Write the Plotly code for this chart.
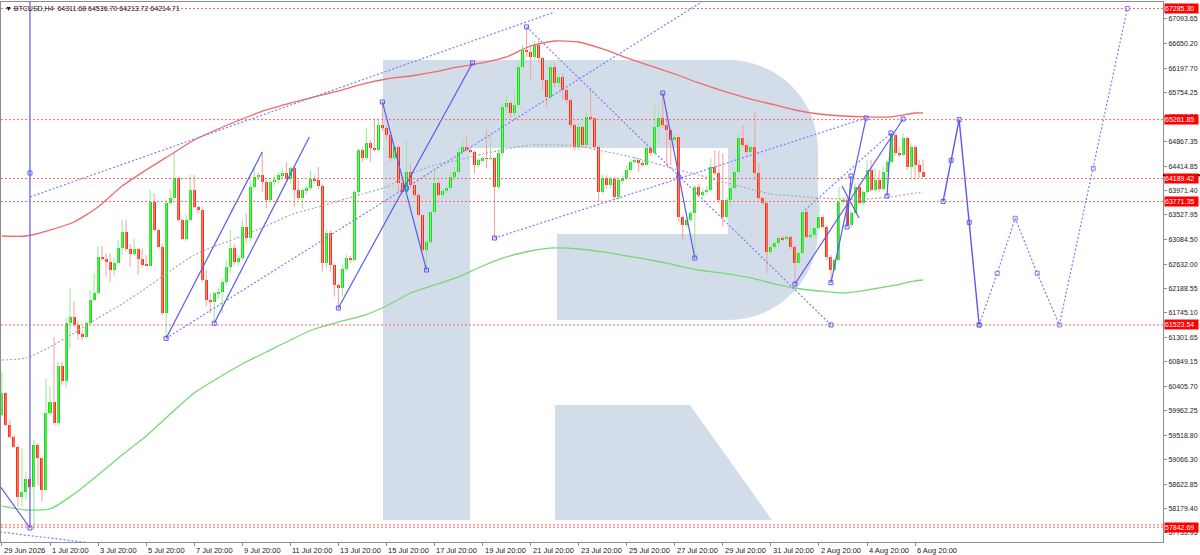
import pandas as pd
import plotly.graph_objects as go

# ── BTCUSD H4 bars (29 Jun 20:00 → 7 Aug 04:00, 2026) ──────────────────────────
bar_times = pd.date_range("2026-06-29 20:00", periods=231, freq="4h")

opens = [
    59884, 60279, 59702, 59490, 59308, 58397, 58488, 58713, 58567, 59338,
    59095, 58518, 59914, 60127, 59732, 60776, 60509, 61553, 61674, 61523,
    61350, 61298, 61565, 61978, 62099, 62767, 62718, 62676, 62524, 62658,
    62919, 63222, 62900, 62820, 62906, 62718, 62615, 62600, 63768, 63252,
    62949, 61735, 63738, 63829, 64193, 63435, 63082, 63435, 63981, 63677,
    63617, 62342, 61978, 61947, 62099, 62129, 62311, 62584, 62918, 62675,
    62736, 63313, 63100, 64041, 64223, 64253, 64132, 63798, 64132, 64162,
    64253, 64284, 64174, 64375, 63980, 63828, 63980, 64011, 64180, 64160,
    64053, 62645, 63191, 62615, 62251, 62190, 62536, 62736, 62706, 63950,
    64709, 64557, 64830, 64739, 64709, 65164, 65103, 64982, 64557, 64769,
    64102, 63950, 64314, 64071, 63889, 63525, 62888, 63040, 63586, 64102,
    63889, 63962, 64011, 64223, 64314, 64678, 64769, 64708, 64680, 64435,
    64526, 64557, 64545, 64557, 64041, 64648, 65497, 65558, 65376, 65528,
    66226, 66529, 66500, 66408, 66620, 66378, 65983, 65680, 66226, 65922,
    66044, 65801, 65619, 65164, 64769, 65133, 64799, 65315, 65285, 64769,
    63950, 64193, 64071, 64174, 63859, 64162, 64193, 64344, 64496, 64526,
    64466, 64440, 64739, 64648, 65133, 65285, 65164, 65073, 64891, 64951,
    63495, 63343, 63434, 63555, 64041, 63889, 63950, 63980, 64405, 64284,
    63798, 63495, 63798, 64011, 64314, 64921, 64800, 64678, 64769, 64284,
    63828, 63737, 62857, 62949, 63009, 63100, 63082, 63131, 62949, 62645,
    62827, 63586, 63131, 63160, 63282, 63495, 63313, 62767, 62524, 62706,
    63768, 63798, 63343, 63556, 64029, 63737, 63950, 64344, 63980, 64162,
    63993, 64314, 64496, 64982, 64648, 64618, 64921, 64405, 64769, 64436,
    64311.68,
]
highs = [
    60673, 60300, 59800, 59520, 59330, 59277, 58852, 58760, 59429, 59370,
    59110, 60552, 60400, 61310, 60855, 60855, 61650, 62190, 61948, 61600,
    61440, 61600, 62160, 62463, 62949, 62961, 62828, 62828, 62736, 63070,
    63447, 63435, 62997, 63101, 62930, 62919, 62797, 63981, 63920, 63283,
    63010, 63799, 63981, 64679, 64223, 63470, 63526, 64254, 64254, 63700,
    63677, 62524, 62099, 62129, 62200, 62372, 62700, 63252, 63000, 62800,
    63434, 63555, 64162, 64405, 64300, 64678, 64162, 64162, 64250, 64300,
    64375, 64496, 64400, 64417, 64162, 64000, 64050, 64344, 64250, 64405,
    64102, 63250, 63250, 62645, 62281, 62615, 62800, 62780, 63980, 64739,
    64769, 65103, 64891, 65285, 65285, 65589, 65150, 65000, 64800, 64800,
    64200, 64891, 64466, 64100, 63920, 63525, 63100, 63600, 64380, 64150,
    64000, 64050, 64300, 64400, 64739, 64921, 64951, 64760, 64700, 64560,
    64600, 65073, 64982, 64580, 64700, 65558, 65700, 65600, 65800, 66300,
    66620, 66942, 66620, 66700, 66700, 66400, 66000, 66300, 66300, 66100,
    66100, 65850, 65650, 65200, 65200, 65150, 65400, 65801, 65300, 64800,
    64250, 64250, 64223, 64223, 64200, 64250, 64435, 64550, 64600, 64560,
    64520, 64891, 64780, 65558, 65498, 65740, 65437, 65100, 65000, 64980,
    63520, 63480, 63600, 64071, 64100, 64000, 64050, 64557, 64709, 64700,
    64650, 63850, 64050, 64350, 65012, 65164, 64850, 64800, 65407, 64466,
    63850, 63760, 63000, 63050, 63150, 63150, 63160, 63150, 62980, 62860,
    63620, 63620, 63313, 63300, 63798, 63520, 63340, 62800, 62750, 64041,
    63850, 63859, 63600, 64102, 64100, 63980, 64527, 64527, 64375, 64344,
    64405, 64527, 65012, 65012, 64769, 65012, 64951, 64830, 64800, 64527,
    64536.70,
]
lows = [
    59854, 59672, 59450, 59280, 58215, 58215, 58336, 58540, 57790, 58600,
    58306, 58500, 59880, 59700, 59700, 60430, 60370, 61098, 61480, 61250,
    61250, 61280, 61540, 61950, 62080, 62700, 62403, 62312, 62403, 62640,
    62797, 62858, 62585, 62780, 62433, 62585, 62597, 62597, 63222, 62930,
    61705, 61280, 63720, 63799, 63400, 63070, 63050, 63400, 63650, 63560,
    62300, 61856, 61735, 61553, 62000, 61735, 62250, 62463, 62615, 62600,
    62700, 63009, 63050, 63980, 64150, 63950, 63646, 63780, 64050, 64100,
    64200, 64150, 64100, 63677, 63798, 63646, 63900, 63980, 64100, 64000,
    62493, 62550, 62493, 62038, 61807, 62038, 62500, 62650, 62680, 63900,
    64496, 64530, 64496, 64680, 64680, 65050, 64900, 64500, 64500, 63950,
    63900, 63920, 64000, 63850, 63495, 62850, 62524, 63000, 63550, 63850,
    63850, 63920, 63980, 64193, 64290, 64650, 64680, 64650, 64284, 64400,
    64500, 64375, 64520, 63100, 64000, 64600, 65376, 65300, 65300, 65500,
    66200, 66400, 66000, 66350, 66300, 65800, 65500, 65650, 65850, 65850,
    65600, 65550, 65100, 64700, 64700, 64750, 64780, 65250, 64700, 63768,
    63900, 64000, 64000, 63798, 63800, 64100, 64150, 64300, 64450, 64314,
    64400, 64420, 64600, 64620, 64830, 65100, 64405, 64435, 64850, 63400,
    63070, 63300, 63400, 62742, 63850, 63850, 63900, 63950, 64250, 63737,
    63313, 63450, 63677, 63980, 64280, 64750, 64600, 64650, 64162, 63800,
    63700, 62463, 62800, 62900, 62950, 63050, 63050, 62900, 62269, 62600,
    62800, 63100, 63070, 63100, 63250, 63280, 62700, 62293, 62500, 62680,
    63700, 63313, 63300, 63530, 63700, 63700, 63920, 63950, 63950, 63950,
    63970, 64102, 64450, 64600, 64580, 64600, 64344, 64162, 64162, 64200,
    64213.72,
]
closes = [
    60279, 59702, 59490, 59308, 58397, 58488, 58713, 58567, 59338, 59095,
    58518, 59914, 60127, 59732, 60776, 60509, 61553, 61674, 61523, 61350,
    61298, 61565, 61978, 62099, 62767, 62718, 62676, 62524, 62658, 62919,
    63222, 62900, 62820, 62906, 62718, 62615, 62600, 63768, 63252, 62949,
    61735, 63738, 63829, 64193, 63435, 63082, 63435, 63981, 63677, 63617,
    62342, 61978, 61947, 62099, 62129, 62311, 62584, 62918, 62675, 62736,
    63313, 63100, 64041, 64223, 64253, 64132, 63798, 64132, 64162, 64253,
    64284, 64174, 64375, 63980, 63828, 63980, 64011, 64180, 64160, 64053,
    62645, 63191, 62615, 62251, 62190, 62536, 62736, 62706, 63950, 64709,
    64557, 64830, 64739, 64709, 65164, 65103, 64982, 64557, 64769, 64102,
    63950, 64314, 64071, 63889, 63525, 62888, 63040, 63586, 64102, 63889,
    63962, 64011, 64223, 64314, 64678, 64769, 64708, 64680, 64435, 64526,
    64557, 64545, 64557, 64041, 64648, 65497, 65558, 65376, 65528, 66226,
    66529, 66500, 66408, 66620, 66378, 65983, 65680, 66226, 65922, 66044,
    65801, 65619, 65164, 64769, 65133, 64799, 65315, 65285, 64769, 63950,
    64193, 64071, 64174, 63859, 64162, 64193, 64344, 64496, 64526, 64466,
    64440, 64739, 64648, 65133, 65285, 65164, 65073, 64891, 64951, 63495,
    63343, 63434, 63555, 64041, 63889, 63950, 63980, 64405, 64284, 63798,
    63495, 63798, 64011, 64314, 64921, 64800, 64678, 64769, 64284, 63828,
    63737, 62857, 62949, 63009, 63100, 63082, 63131, 62949, 62645, 62827,
    63586, 63131, 63160, 63282, 63495, 63313, 62767, 62524, 62706, 63768,
    63798, 63343, 63556, 64029, 63737, 63950, 64344, 63980, 64162, 63993,
    64314, 64496, 64982, 64648, 64618, 64921, 64405, 64769, 64436, 64311.68,
    64214.71,
]

# moving averages, sampled once a day (20:00 bar) plus the last bar
ma_red = [
    63143, 63143, 63252, 63398, 63671, 64053, 64345, 64618, 64891, 65091,
    65273, 65437, 65564, 65674, 65783, 65910, 66001, 66056, 66129, 66220,
    66293, 66402, 66602, 66693, 66675, 66548, 66384, 66238, 66092, 65929,
    65783, 65655, 65546, 65437, 65364, 65328, 65310, 65310, 65382, 65382,
]
ma_green = [
    58227, 58155, 58173, 58446, 58792, 59156, 59502, 59902, 60285, 60558,
    60813, 61031, 61250, 61450, 61577, 61687, 61869, 62105, 62251, 62397,
    62597, 62761, 62870, 62925, 62906, 62852, 62779, 62706, 62615, 62524,
    62469, 62397, 62287, 62196, 62142, 62105, 62160, 62233, 62324, 62342,
]
ma_gray = [
    60885, 60922, 61122, 61377, 61650, 61905, 62196, 62506, 62797, 62979,
    63143, 63325, 63525, 63653, 63780, 63908, 64035, 64272, 64436, 64527,
    64636, 64727, 64800, 64800, 64781, 64690, 64600, 64490, 64363, 64254,
    64126, 64017, 63908, 63871, 63835, 63817, 63817, 63853, 63926, 63926,
]

# horizontal levels; the labelled ones get a red box on the price scale
levels = [67285.30, 65261.85, 64189.42, 63771.35, 61523.54, 57885.12, 57842.69]
level_labels = [67285.30, 65261.85, 64189.42, 63771.35, 61523.54, 57842.69]

# price scale ticks
y_ticks = [67093.65, 66650.20, 66197.70, 65754.25, 65310.80, 64867.35, 64414.85,
           63971.40, 63527.95, 63084.50, 62632.00, 62188.55, 61745.10, 61301.65,
           60849.15, 60405.70, 59962.25, 59518.80, 59066.30, 58622.85, 58179.40,
           57735.95]

# time scale ticks
x_tick_times = ["2026-06-29 20:00", "2026-07-01 20:00", "2026-07-03 20:00", "2026-07-05 20:00",
                "2026-07-07 20:00", "2026-07-09 20:00", "2026-07-11 20:00", "2026-07-13 20:00",
                "2026-07-15 20:00", "2026-07-17 20:00", "2026-07-19 20:00", "2026-07-21 20:00",
                "2026-07-23 20:00", "2026-07-25 20:00", "2026-07-27 20:00", "2026-07-29 20:00",
                "2026-07-31 20:00", "2026-08-02 20:00", "2026-08-04 20:00", "2026-08-06 20:00"]
x_tick_text = ["29 Jun 2026", "1 Jul 20:00", "3 Jul 20:00", "5 Jul 20:00", "7 Jul 20:00",
               "9 Jul 20:00", "11 Jul 20:00", "13 Jul 20:00", "15 Jul 20:00", "17 Jul 20:00",
               "19 Jul 20:00", "21 Jul 20:00", "23 Jul 20:00", "25 Jul 20:00", "27 Jul 20:00",
               "29 Jul 20:00", "31 Jul 20:00", "2 Aug 20:00", "4 Aug 20:00", "6 Aug 20:00"]

# analysis drawings: (time, price) end points
solid_segments = [
    (("2026-07-01 00:00", 57827), ("2026-07-01 00:00", 67450)),
    (("2026-06-29 18:00", 58591), ("2026-07-01 00:00", 57827)),
    (("2026-07-06 16:00", 61280), ("2026-07-10 16:00", 64672)),
    (("2026-07-08 16:00", 61553), ("2026-07-12 15:00", 64945)),
    (("2026-07-13 20:00", 61832), ("2026-07-19 10:00", 66293)),
    (("2026-07-15 16:00", 65583), ("2026-07-17 12:00", 62524)),
    (("2026-07-27 08:00", 65746), ("2026-07-28 16:00", 62742)),
    (("2026-08-01 20:00", 62269), ("2026-08-06 08:00", 65273)),
    (("2026-08-03 08:00", 62293), ("2026-08-04 19:00", 65291)),
    (("2026-08-05 16:00", 63871), ("2026-08-05 20:00", 65018)),
    (("2026-08-03 19:00", 64053), ("2026-08-04 12:00", 63471)),
    (("2026-08-04 00:00", 63307), ("2026-08-04 04:00", 64235)),
]
dotted_segments = [
    (("2026-07-01 00:00", 63853), ("2026-07-22 20:00", 67221)),
    (("2026-06-29 18:00", 57754), ("2026-07-03 20:00", 57540)),
    (("2026-07-06 16:00", 61280), ("2026-07-29 02:00", 67440)),
    (("2026-07-20 08:00", 63106), ("2026-08-04 19:00", 65291)),
    (("2026-07-21 16:00", 66948), ("2026-08-03 08:00", 61523.54)),
    (("2026-08-02 06:00", 63616), ("2026-08-05 20:00", 65018)),
]
pivots = [
    ("2026-07-01 00:00", 64290), ("2026-07-01 00:00", 57827), ("2026-07-06 16:00", 61280),
    ("2026-07-08 16:00", 61553), ("2026-07-13 20:00", 61832), ("2026-07-15 16:00", 65583),
    ("2026-07-16 16:00", 64017), ("2026-07-17 12:00", 62524), ("2026-07-19 10:00", 66293),
    ("2026-07-20 08:00", 63106), ("2026-07-21 16:00", 66948), ("2026-07-27 08:00", 65746),
    ("2026-07-28 00:00", 64217), ("2026-07-28 16:00", 62742), ("2026-08-01 20:00", 62269),
    ("2026-08-03 08:00", 62293), ("2026-08-03 08:00", 61523.54), ("2026-08-04 19:00", 65291),
    ("2026-08-05 16:00", 63871), ("2026-08-05 20:00", 65018), ("2026-08-06 08:00", 65273),
    ("2026-08-04 04:00", 64235), ("2026-08-04 00:00", 63307),
]

# forecast path
forecast_t = ["2026-08-08 00:00", "2026-08-08 08:00", "2026-08-08 16:00",
              "2026-08-09 02:00", "2026-08-09 12:00"]
forecast_p = [63771.35, 64521, 65261.85, 63392, 61523.54]
projection_t = ["2026-08-09 12:00", "2026-08-10 06:00", "2026-08-11 00:00", "2026-08-11 22:00",
                "2026-08-12 20:00", "2026-08-14 06:00", "2026-08-15 16:00"]
projection_p = [61523.54, 62464, 63465, 62464, 61523.54, 64375, 67285.30]

# ── styling ───────────────────────────────────────────────────────────────────
UP_BODY, DN_BODY = "#0be20b", "#ff2d0a"
UP_WICK, DN_WICK = "#98e898", "#f2a0a0"
BLUE_SOLID, BLUE_DOT = "#5a5af2", "#7c7cff"
LEVEL_RED = "#ff6464"
LOGO = "#d3dde9"
FONT = "Liberation Sans, Arial, sans-serif"

PLOT_X0, PLOT_X1 = 1, 1163   # plot area in page pixels
PLOT_Y0, PLOT_Y1 = 2, 542


def to_paper(px, py):
    return (px - PLOT_X0) / (PLOT_X1 - PLOT_X0), (PLOT_Y1 - py) / (PLOT_Y1 - PLOT_Y0)


def svg_path(cmds):
    parts = []
    for cmd in cmds:
        letter, pts = cmd[0], cmd[1:]
        coords = []
        for i in range(0, len(pts), 2):
            x, y = to_paper(pts[i], pts[i + 1])
            coords.append(f"{x:.5f},{y:.5f}")
        parts.append(letter + " ".join(coords))
    return " ".join(parts)


def seg_xy(segments):
    xs, ys = [], []
    for (t0, p0), (t1, p1) in segments:
        xs += [t0, t1, None]
        ys += [p0, p1, None]
    return xs, ys


fig = go.Figure()

# wicks
up = [c >= o for o, c in zip(opens, closes)]
wx_up, wy_up, wx_dn, wy_dn = [], [], [], []
for t, h, l, u in zip(bar_times, highs, lows, up):
    if u:
        wx_up += [t, t, None]
        wy_up += [l, h, None]
    else:
        wx_dn += [t, t, None]
        wy_dn += [l, h, None]
fig.add_trace(go.Scatter(x=wx_up, y=wy_up, mode="lines", line=dict(color=UP_WICK, width=1),
                         hoverinfo="skip"))
fig.add_trace(go.Scatter(x=wx_dn, y=wy_dn, mode="lines", line=dict(color=DN_WICK, width=1),
                         hoverinfo="skip"))

# bodies
body_base = [min(o, c) for o, c in zip(opens, closes)]
body_len = [max(abs(c - o), 18) for o, c in zip(opens, closes)]
fig.add_trace(go.Bar(
    x=bar_times, y=body_len, base=body_base,
    width=3 * 3600 * 1000,
    marker=dict(color=[UP_BODY if u else DN_BODY for u in up], line=dict(width=0)),
    hoverinfo="skip",
))

# moving averages
ma_times = list(bar_times[::6]) + [bar_times[-1]]
fig.add_trace(go.Scatter(x=ma_times, y=ma_gray, mode="lines",
                         line=dict(color="#a8a8a8", width=1.2, dash="2px,2px", shape="spline", smoothing=0.6)))
fig.add_trace(go.Scatter(x=ma_times, y=ma_red, mode="lines",
                         line=dict(color="#f06a6a", width=1.3, shape="spline", smoothing=0.6)))
fig.add_trace(go.Scatter(x=ma_times, y=ma_green, mode="lines",
                         line=dict(color="#78d878", width=1.3, shape="spline", smoothing=0.6)))

# drawings
sx, sy = seg_xy(solid_segments)
fig.add_trace(go.Scatter(x=sx, y=sy, mode="lines", line=dict(color=BLUE_SOLID, width=1.2)))
dx, dy = seg_xy(dotted_segments)
fig.add_trace(go.Scatter(x=dx, y=dy, mode="lines", line=dict(color=BLUE_DOT, width=1.2, dash="2px,2px")))
fig.add_trace(go.Scatter(x=[p[0] for p in pivots], y=[p[1] for p in pivots], mode="markers",
                         marker=dict(symbol="square-open", size=4, color=BLUE_SOLID, line=dict(width=1))))

# forecast
fig.add_trace(go.Scatter(x=projection_t, y=projection_p, mode="lines+markers",
                         line=dict(color=BLUE_DOT, width=1.2, dash="2px,2px"),
                         marker=dict(symbol="square-open", size=4, color=BLUE_DOT, line=dict(width=1))))
fig.add_trace(go.Scatter(x=forecast_t, y=forecast_p, mode="lines+markers",
                         line=dict(color=BLUE_SOLID, width=1.4),
                         marker=dict(symbol="square-open", size=4, color=BLUE_SOLID, line=dict(width=1))))

# ── shapes: watermark, levels ────────────────────────────────────────────────
logo_bowl = [("M", 383, 60), ("L", 728, 60), ("C", 778, 60, 818, 100, 818, 150),
             ("L", 818, 230), ("C", 818, 280, 778, 320, 728, 320), ("L", 557, 320),
             ("L", 557, 234), ("L", 728, 234), ("L", 728, 148), ("L", 470, 148),
             ("L", 470, 520), ("L", 383, 520), ("Z",)]
logo_leg = [("M", 555, 405), ("L", 690, 405), ("L", 772, 520), ("L", 555, 520), ("Z",)]

shapes = []
for cmds in (logo_bowl, logo_leg):
    shapes.append(dict(type="path", path=svg_path(cmds), xref="paper", yref="paper",
                       fillcolor=LOGO, line=dict(width=0), layer="below"))
for lv in levels:
    shapes.append(dict(type="line", xref="paper", x0=0, x1=1, yref="y", y0=lv, y1=lv,
                       line=dict(color=LEVEL_RED, width=1, dash="2px,2px")))
# bid marker on the price scale
shapes.append(dict(type="line", xref="paper", x0=1, x1=1.032, yref="y", y0=64250, y1=64250,
                   line=dict(color="#000000", width=2)))

annotations = []
for lv in level_labels:
    annotations.append(dict(x=1, xref="paper", y=lv, yref="y", xanchor="left", xshift=1,
                            text=f"{lv:.2f}", showarrow=False, bgcolor="#ff0000",
                            font=dict(color="#ffffff", size=7, family=FONT),
                            width=33, height=9, align="left", borderpad=0))
for t, txt in zip(x_tick_times, x_tick_text):
    annotations.append(dict(x=t, xref="x", y=0, yref="paper", xanchor="left", yanchor="top",
                            yshift=-2, text=txt, showarrow=False,
                            font=dict(color="#222222", size=7.5, family=FONT)))
annotations.append(dict(x=0, xref="paper", y=1, yref="paper", xanchor="left", yanchor="top",
                        xshift=2, yshift=-1, showarrow=False,
                        text="▼ BTCUSD,H4  64311.68 64536.70 64213.72 64214.71",
                        font=dict(color="#111111", size=7, family=FONT)))

fig.update_layout(
    width=1200, height=555,
    margin=dict(l=PLOT_X0, r=1200 - PLOT_X1, t=PLOT_Y0, b=555 - PLOT_Y1),
    paper_bgcolor="#ffffff", plot_bgcolor="#ffffff",
    showlegend=False, barmode="overlay", bargap=0,
    font=dict(family=FONT, size=7, color="#222222"),
    shapes=shapes, annotations=annotations,
    xaxis=dict(
        type="date", range=["2026-06-29 19:04", "2026-08-17 03:36"],
        showgrid=False, zeroline=False, showline=True, mirror=True,
        linecolor="#8c8c8c", linewidth=1,
        tickvals=x_tick_times, showticklabels=False,
        ticks="outside", ticklen=3, tickcolor="#8c8c8c",
        rangeslider=dict(visible=False),
    ),
    yaxis=dict(
        side="right", range=[57572, 67403],
        showgrid=False, zeroline=False, showline=True, mirror=True,
        linecolor="#8c8c8c", linewidth=1,
        tickvals=y_ticks, ticktext=[f"{v:.2f}" for v in y_ticks],
        ticks="outside", ticklen=3, tickcolor="#8c8c8c",
        tickfont=dict(size=7, color="#222222", family=FONT),
    ),
)

fig.write_html("out.html", config={"displayModeBar": False},
               post_script="document.body.style.margin='0';document.body.style.overflow='hidden';")
